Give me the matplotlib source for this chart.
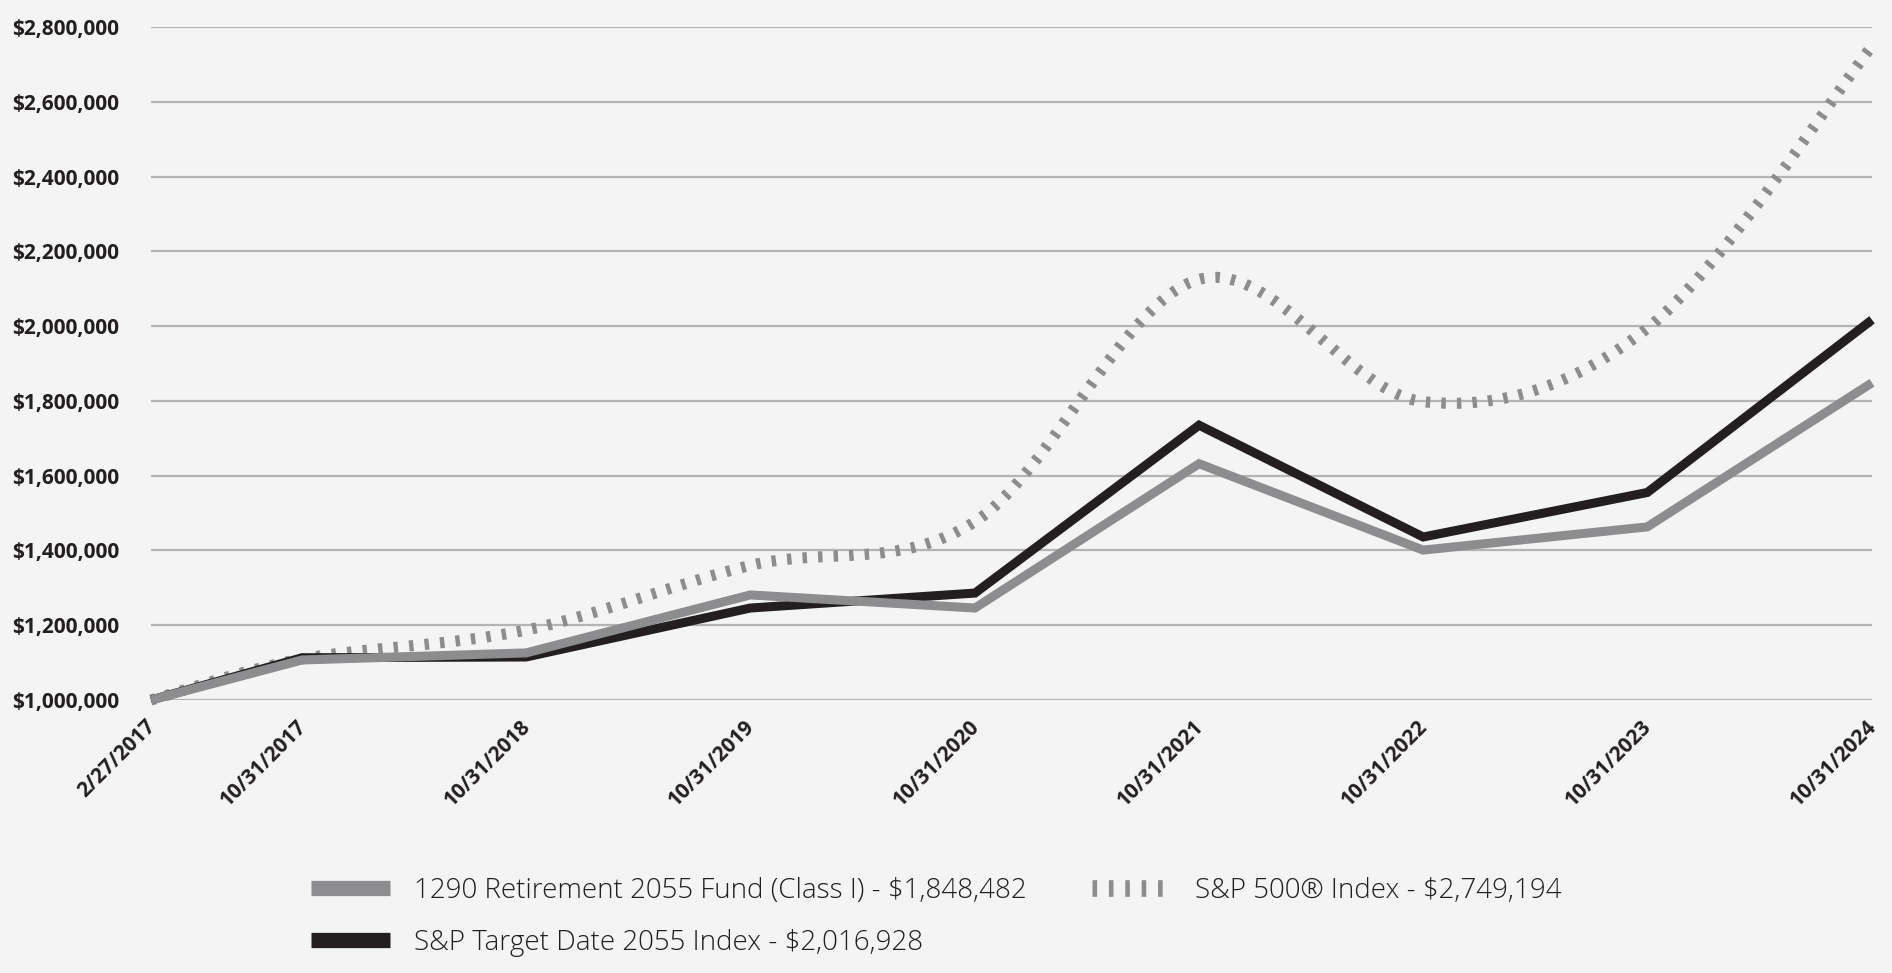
import matplotlib
matplotlib.use("Agg")
import matplotlib.pyplot as plt
import matplotlib.dates as mdates
from matplotlib.path import Path
from matplotlib.patches import PathPatch
from matplotlib.lines import Line2D
from matplotlib.transforms import ScaledTranslation
import numpy as np
import datetime as dt

# ---------------- data ----------------
dates = ["2017-02-27", "2017-10-31", "2018-10-31", "2019-10-31", "2020-10-31",
         "2021-10-31", "2022-10-31", "2023-10-31", "2024-10-31"]
tick_labels = ["2/27/2017", "10/31/2017", "10/31/2018", "10/31/2019", "10/31/2020",
               "10/31/2021", "10/31/2022", "10/31/2023", "10/31/2024"]
fund = [1000000, 1107000, 1126000, 1281000, 1246000, 1632000, 1401000, 1463000, 1848482]
target = [1000000, 1113000, 1115000, 1246000, 1286000, 1735000, 1436000, 1555000, 2016928]
sp500 = [1000000, 1110000, 1187000, 1360000, 1477000, 2125000, 1798000, 1994000, 2749194]
fund_label = "1290 Retirement 2055 Fund (Class I) - $1,848,482"
target_label = "S&P Target Date 2055 Index - $2,016,928"
sp_label = "S&P 500\u00ae Index - $2,749,194"
yticks = [1000000, 1200000, 1400000, 1600000, 1800000, 2000000, 2200000, 2400000, 2600000, 2800000]

# ---------------- style ----------------
BG = "#f3f4f3"
GRID = "#b4b4b4"
GRAY = "#8d8d8f"
BLACK = "#231f20"
TEXT = "#231f20"
plt.rcParams["font.family"] = ["Open Sans", "DejaVu Sans"]
plt.rcParams["lines.scale_dashes"] = False

W, H = 1892, 973
fig = plt.figure(figsize=(W / 100, H / 100), dpi=100, facecolor=BG)
ax = fig.add_axes([151 / W, 1 - 700 / H, (1872 - 151) / W, (700 - 27) / H])
ax.set_facecolor(BG)

x = mdates.date2num([dt.datetime.strptime(d, "%Y-%m-%d") for d in dates])

# gridlines
for yv in yticks:
    ax.axhline(yv, color=GRID, lw=1.6, zorder=1)

# smoothed S&P 500 path (Bezier through the data points)
def smooth_path(xs, ys):
    pts = np.column_stack([xs, ys]).astype(float)
    n = len(pts)
    verts = [pts[0]]
    codes = [Path.MOVETO]
    for i in range(n - 1):
        p0 = pts[i - 1] if i > 0 else pts[i]
        p1 = pts[i]
        p2 = pts[i + 1]
        p3 = pts[i + 2] if i + 2 < n else pts[i + 1]
        c1 = p1 + (p2 - p0) / 6.0
        c2 = p2 - (p3 - p1) / 6.0
        verts += [c1, c2, p2]
        codes += [Path.CURVE4] * 3
    return Path(verts, codes)

sp_patch = PathPatch(smooth_path(x, sp500), fill=False, edgecolor=GRAY, lw=8.0,
                     linestyle=(0, (3.2, 8.0)), capstyle="butt", zorder=3, clip_on=False)
ax.add_patch(sp_patch)

ax.plot(x, target, color=BLACK, lw=6.5, solid_joinstyle="miter", solid_capstyle="butt",
        zorder=4, clip_on=False)
ax.plot(x, fund, color=GRAY, lw=6.5, solid_joinstyle="miter", solid_capstyle="butt",
        zorder=5, clip_on=False)

ax.set_xlim(x[0], x[-1])
ax.set_ylim(1000000, 2800000)
ax.set_yticks(yticks)
ax.set_yticklabels(["${:,.0f}".format(v) for v in yticks])
ax.set_xticks(x)
ax.set_xticklabels(tick_labels, rotation=45, ha="right", va="top", rotation_mode="anchor")
ax.tick_params(axis="y", length=0, pad=23, labelsize=15, labelcolor=TEXT)
ax.tick_params(axis="x", length=0, pad=13, labelsize=15, labelcolor=TEXT)
shift = ScaledTranslation(-6 / 100, 2 / 100, fig.dpi_scale_trans)
for lab in ax.get_xticklabels():
    lab.set_transform(lab.get_transform() + shift)
for lab in ax.get_xticklabels() + ax.get_yticklabels():
    lab.set_fontweight("bold")
for s in ax.spines.values():
    s.set_visible(False)

# legend
LFS = 20
px = LFS * 100 / 72
handles = [
    Line2D([], [], color=GRAY, lw=11, solid_capstyle="butt"),
    Line2D([], [], color=BLACK, lw=11, solid_capstyle="butt"),
    Line2D([], [], color=GRAY, lw=12, linestyle=(0, (3.3, 8.5)), dash_capstyle="butt"),
]
leg = fig.legend(handles, [fund_label, target_label, sp_label], ncol=2,
                 loc="center left", bbox_to_anchor=(311 / W, 1 - 917 / H),
                 frameon=False, borderpad=0, borderaxespad=0,
                 handlelength=79 / px, handletextpad=24 / px, columnspacing=65 / px,
                 labelspacing=0.85, prop={"size": LFS, "weight": "light"})
for t in leg.get_texts():
    t.set_color(TEXT)

fig.savefig("out.png", dpi=100, facecolor=BG)
